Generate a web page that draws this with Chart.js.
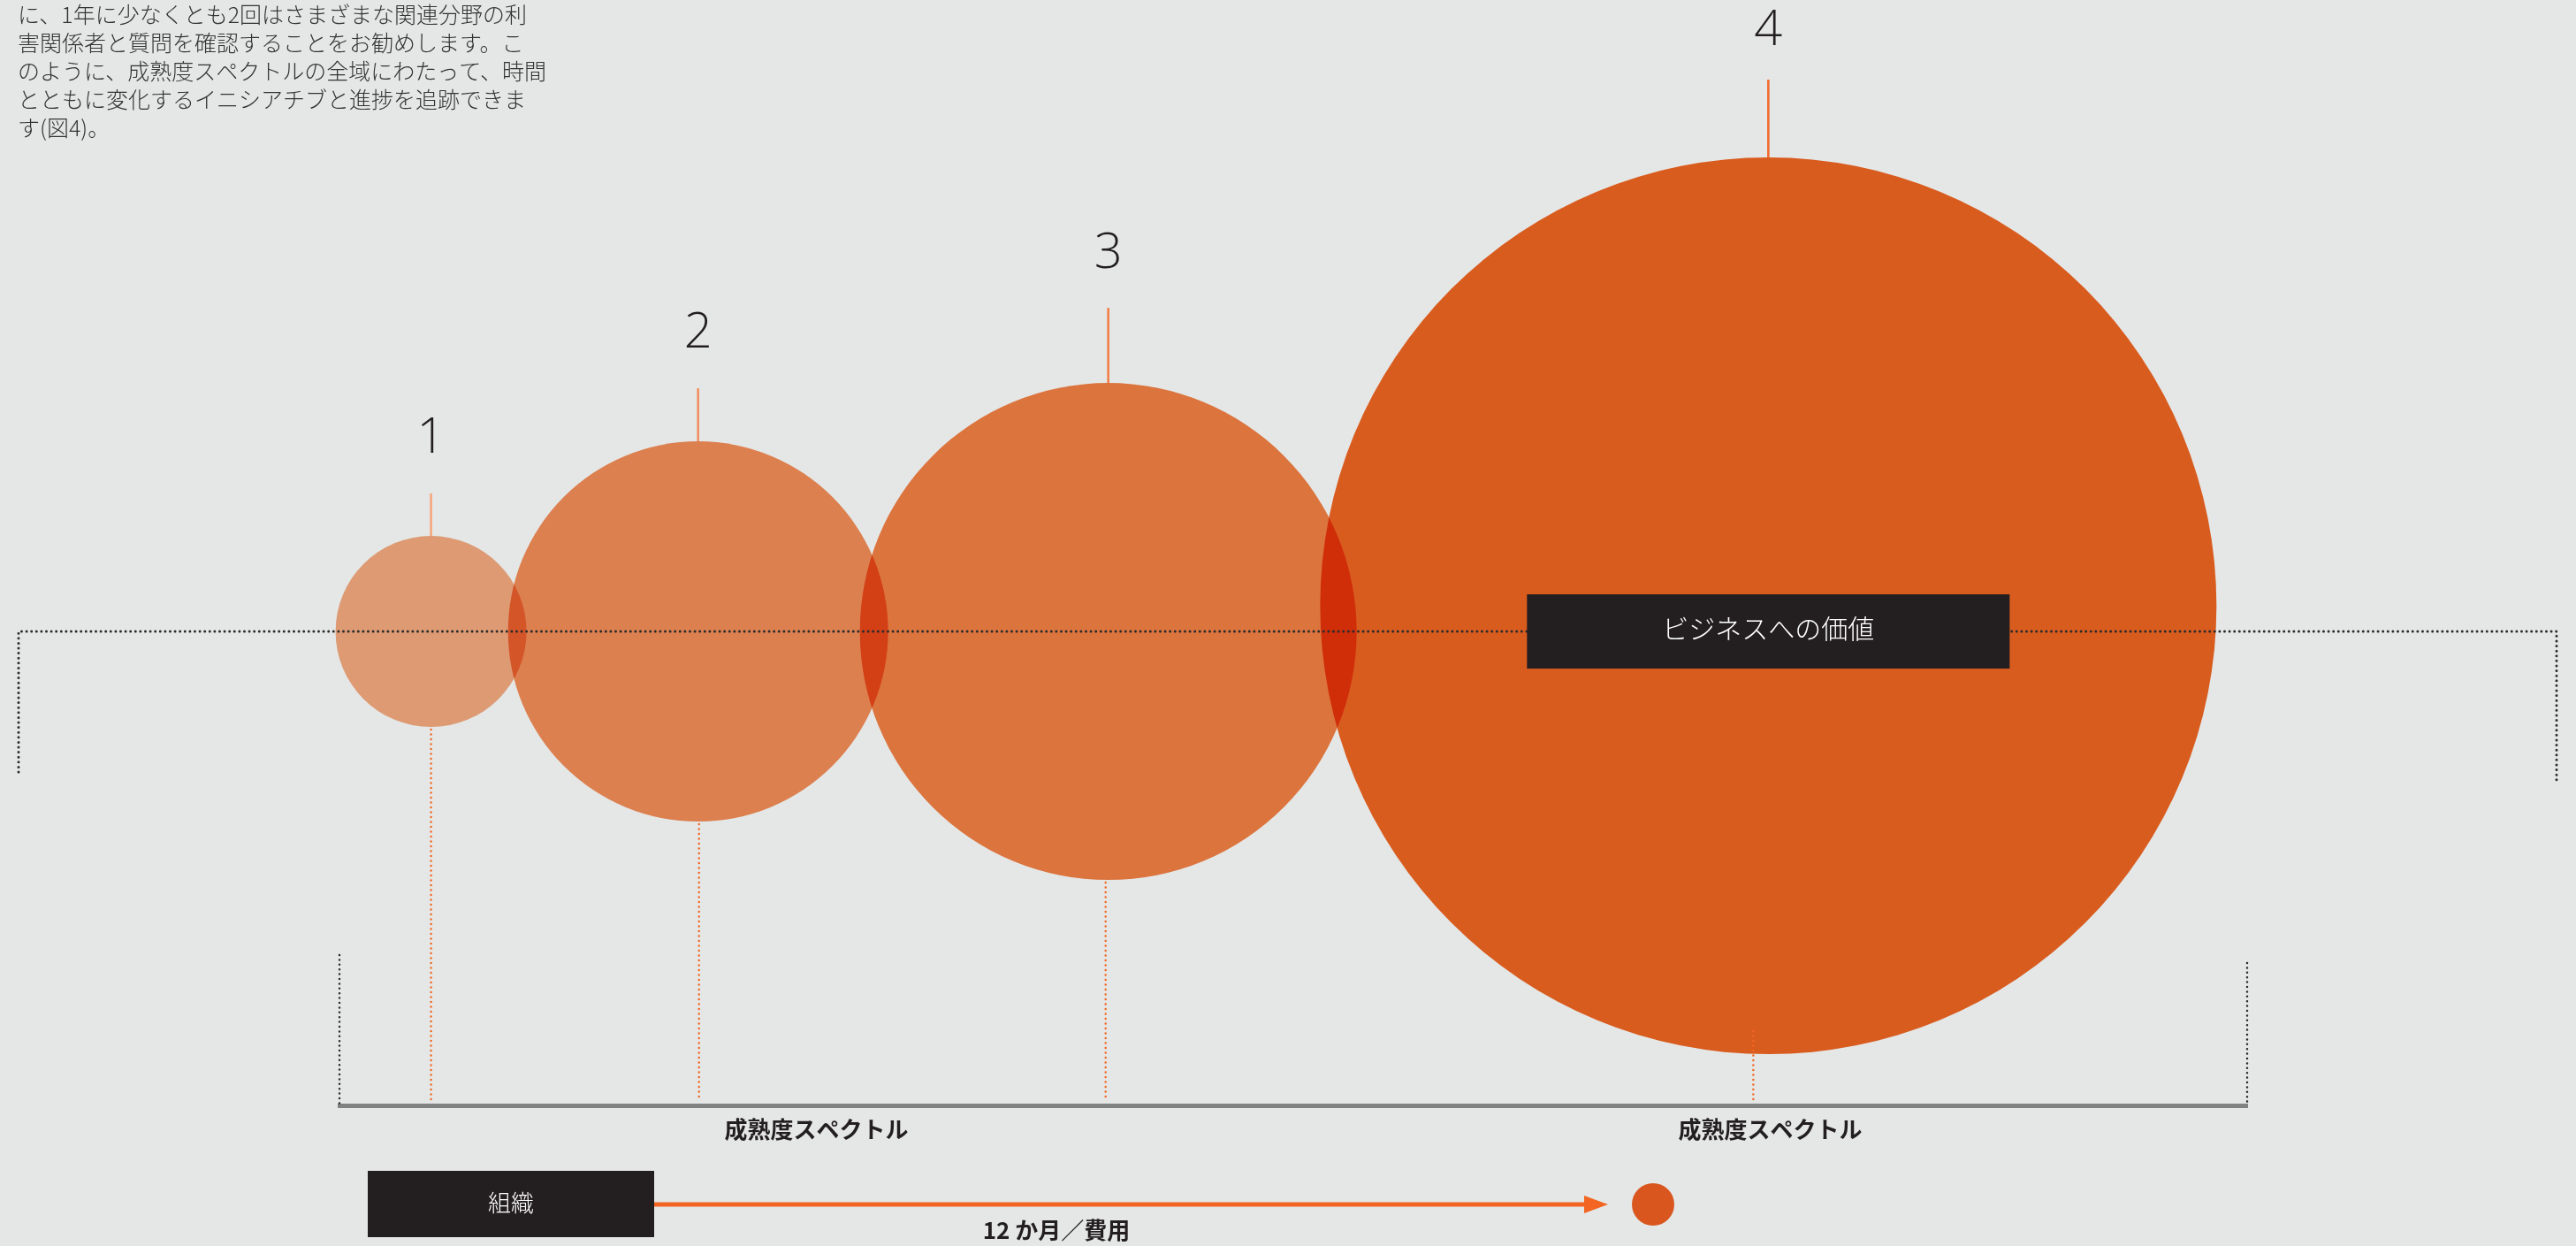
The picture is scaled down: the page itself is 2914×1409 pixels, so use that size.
<!DOCTYPE html>
<html><head><meta charset="utf-8">
<script src="https://cdn.jsdelivr.net/npm/chart.js@4.4.1/dist/chart.umd.min.js"></script>
<style>html,body{margin:0;padding:0;background:#E5E7E6;overflow:hidden}canvas{display:block}</style>
</head><body>
<canvas id="c" width="2914" height="1409"></canvas>
<script>
// ---------- data ----------
const stages = ['1', '2', '3', '4'];
const maturity = [4.8, 18.8, 40.3, 74.9];          // position along the maturity spectrum (0–100)
const businessValue = [46.2, 46.2, 46.2, 48.7];     // vertical position (value to business, 0–100)
const bubbleSize = [108, 215, 281, 507];            // bubble radius
const spectrumTicks = [25, 75];
const spectrumTickLabels = ['成熟度スペクトル', '成熟度スペクトル'];
const valueLevel = 46.2;
const valueLabel = 'ビジネスへの価値';
const orgLabel = '組織';
const periodLabel = '12 か月／費用';
const introLines = [
  'に、1年に少なくとも2回はさまざまな関連分野の利',
  '害関係者と質問を確認することをお勧めします。こ',
  'のように、成熟度スペクトルの全域にわたって、時間',
  'とともに変化するイニシアチブと進捗を追跡できま',
  'す(図4)。'
];

// ---------- styles ----------
const BG = '#E5E7E6';
const INK = '#231F20';
const ORANGE = '#F26522';
const bubbleFill = ['#F7AA80', '#F58D59', '#F58045', '#F26522']; // multiplied over background
const tickColor = ['#F5A77F', '#F39062', '#F2814A', '#F26A30'];
const tickLen = [48, 60, 85, 88];
const numberGap = [46, 46, 45, 39];
const dropInset = [0, 0, 0, 29];
const dropDx = [0, 1, -3, -17];
const JP = '"Noto Sans CJK JP", "Noto Sans", sans-serif';

function dotted(ctx, pts, color, w, gap) {
  ctx.save();
  ctx.strokeStyle = color; ctx.lineWidth = w; ctx.lineCap = 'round';
  ctx.setLineDash([0, gap]);
  ctx.beginPath();
  ctx.moveTo(pts[0][0], pts[0][1]);
  for (let i = 1; i < pts.length; i++) ctx.lineTo(pts[i][0], pts[i][1]);
  ctx.stroke();
  ctx.restore();
}

const deco = {
  id: 'deco',
  beforeDraw(chart) {
    const ctx = chart.ctx;
    ctx.save(); ctx.fillStyle = BG; ctx.fillRect(0, 0, chart.width, chart.height); ctx.restore();
  },
  beforeDatasetsDraw(chart) {
    chart.ctx.save();
    chart.ctx.globalCompositeOperation = 'multiply';
  },
  afterDatasetsDraw(chart) {
    const ctx = chart.ctx;
    ctx.restore();
    const ys = chart.scales.y, area = chart.chartArea;
    const meta = chart.getDatasetMeta(0);
    const yLine = ys.getPixelForValue(valueLevel);

    // value-to-business bracket (dotted)
    dotted(ctx, [[21, 873], [21, yLine], [2892, yLine], [2892, 885]], '#2B2B2B', 3, 5.6);

    // value label box, centred on the largest bubble
    const bx = meta.data[3].x;
    ctx.save();
    ctx.fillStyle = INK;
    ctx.fillRect(bx - 273, yLine - 42, 546, 84);
    ctx.fillStyle = '#FFFFFF';
    ctx.font = '300 30px ' + JP;
    ctx.textAlign = 'center'; ctx.textBaseline = 'middle';
    ctx.fillText(valueLabel, bx, yLine - 3);
    ctx.restore();

    // ticks, stage numbers, drop lines
    meta.data.forEach((pt, i) => {
      const r = pt.options.radius;
      const top = pt.y - r, bottom = pt.y + r;
      ctx.save();
      ctx.strokeStyle = tickColor[i]; ctx.lineWidth = 2.6;
      ctx.beginPath(); ctx.moveTo(pt.x, top); ctx.lineTo(pt.x, top - tickLen[i]); ctx.stroke();
      ctx.fillStyle = INK;
      ctx.font = '300 56px "Open Sans", "Noto Sans", sans-serif';
      ctx.textAlign = 'center'; ctx.textBaseline = 'alphabetic';
      ctx.fillText(stages[i], pt.x, top - tickLen[i] - numberGap[i]);
      ctx.restore();
      const dx = pt.x + dropDx[i];
      dotted(ctx, [[dx, bottom - dropInset[i] + 3], [dx, area.bottom - 6]], ORANGE, 2.5, 5.5);
    });

    // spectrum bracket ends
    dotted(ctx, [[area.left, 1080], [area.left, area.bottom - 2]], '#2B2B2B', 2.5, 5.4);
    dotted(ctx, [[area.right, 1089], [area.right, area.bottom - 2]], '#2B2B2B', 2.5, 5.4);

    // bottom legend: organisation -> 12 months / cost
    ctx.save();
    ctx.fillStyle = INK;
    ctx.fillRect(416, 1324, 324, 75);
    ctx.fillStyle = '#FFFFFF';
    ctx.font = '300 26px ' + JP;
    ctx.textAlign = 'center'; ctx.textBaseline = 'middle';
    ctx.fillText(orgLabel, 578, 1360);
    ctx.strokeStyle = ORANGE; ctx.lineWidth = 5;
    ctx.beginPath(); ctx.moveTo(740, 1362); ctx.lineTo(1795, 1362); ctx.stroke();
    ctx.fillStyle = ORANGE;
    ctx.beginPath(); ctx.moveTo(1819, 1362); ctx.lineTo(1792, 1352); ctx.lineTo(1792, 1372); ctx.closePath(); ctx.fill();
    ctx.fillStyle = '#D9571F';
    ctx.beginPath(); ctx.arc(1870, 1362, 24, 0, Math.PI * 2); ctx.fill();
    ctx.fillStyle = INK;
    ctx.font = 'bold 26px ' + JP;
    ctx.fillText(periodLabel, 1195, 1391);
    ctx.restore();

    // intro paragraph
    ctx.save();
    ctx.fillStyle = '#333333';
    ctx.font = '300 25px ' + JP;
    ctx.textAlign = 'left'; ctx.textBaseline = 'alphabetic';
    introLines.forEach((l, i) => ctx.fillText(l, 20, 26 + i * 32));
    ctx.restore();
  }
};

new Chart(document.getElementById('c'), {
  type: 'bubble',
  data: {
    labels: stages,
    datasets: [{
      data: stages.map((s, i) => ({ x: maturity[i], y: businessValue[i], r: bubbleSize[i] })),
      backgroundColor: bubbleFill,
      borderWidth: 0,
      hoverBorderWidth: 0,
      clip: false
    }]
  },
  options: {
    responsive: false,
    animation: false,
    events: [],
    layout: { autoPadding: false, padding: { left: 384, right: 372, top: 90, bottom: 0 } },
    plugins: { legend: { display: false }, tooltip: { enabled: false }, title: { display: false } },
    scales: {
      x: {
        type: 'linear', min: 0, max: 100,
        grid: { display: false, drawTicks: false, tickLength: 0 },
        border: { display: true, color: '#808281', width: 5 },
        afterBuildTicks: s => { s.ticks = spectrumTicks.map(v => ({ value: v })); },
        afterFit: s => { s.height = 159; },
        ticks: {
          autoSkip: false, maxRotation: 0, padding: 12, color: INK,
          font: { family: '"Noto Sans CJK JP", sans-serif', size: 26, weight: 'bold' },
          callback: (v, i) => spectrumTickLabels[i]
        }
      },
      y: { type: 'linear', min: 0, max: 100, display: false }
    }
  },
  plugins: [deco]
});
</script>
</body></html>
